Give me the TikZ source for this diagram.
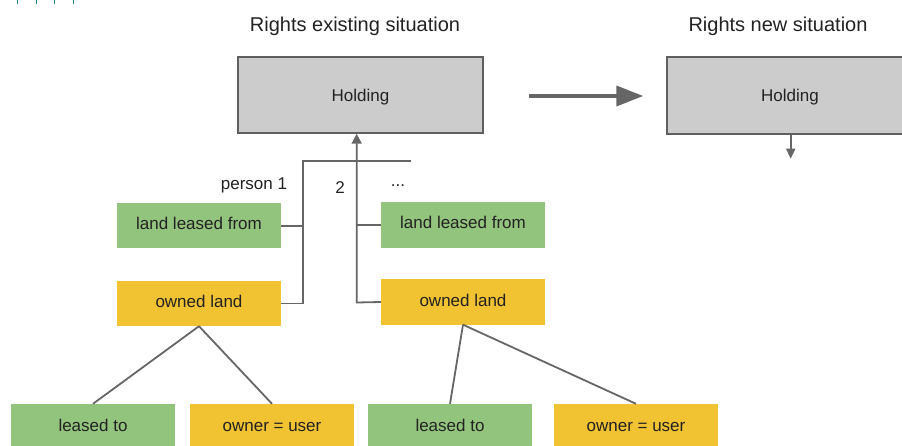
\documentclass[tikz,border=0pt]{standalone}
\usepackage{fontspec}
\setmainfont{Liberation Sans}
\usetikzlibrary{arrows.meta}
\definecolor{boxgray}{HTML}{CCCCCC}
\definecolor{edgegray}{HTML}{5F5F5F}
\definecolor{linegray}{HTML}{666666}
\definecolor{leafgreen}{HTML}{93C47D}
\definecolor{gold}{HTML}{F1C232}
\definecolor{inkdark}{HTML}{222222}
\definecolor{tickblue}{HTML}{1F7A9C}
\tikzset{
  x=1pt, y=-1pt,
  every node/.style={text=inkdark, font=\fontsize{17}{20}\selectfont},
  holdbox/.style={draw=edgegray, line width=1.5pt, fill=boxgray, minimum width=245pt, minimum height=76pt, inner sep=0pt, text height=17pt, text depth=4pt},
  greenbox/.style={fill=leafgreen, minimum width=164pt, minimum height=45pt, inner sep=0pt, text height=12pt, text depth=4pt},
  goldbox/.style={fill=gold, minimum width=164pt, minimum height=45pt, inner sep=0pt, text height=12pt, text depth=4pt},
  leafgreenbox/.style={greenbox, minimum height=43pt, text height=12pt, text depth=1pt},
  leafgoldbox/.style={goldbox, minimum height=43pt, text height=12pt, text depth=1pt},
  wire/.style={draw=linegray, line width=1.8pt},
  upwire/.style={wire, -{Triangle[length=10pt,width=10pt]}},
  bigarrow/.style={draw=linegray, line width=4pt, -{Triangle[length=27pt,width=20pt]}},
  heading/.style={font=\fontsize{20}{24}\selectfont},
  tick/.style={draw=tickblue, line width=1pt}
}
\begin{document}
\begin{tikzpicture}
\useasboundingbox (0,0) rectangle (902,446);
\clip (0,0) rectangle (902,446);

% small marks along the top edge
\foreach \tx in {17.3,36,54.3,73.3}
  \draw[tick] (\tx,0) -- (\tx,4.5);

% headings
\node[heading] (headold) at (355,26) {Rights existing situation};
\node[heading] (headnew) at (778,26) {Rights new situation};

% holdings
\node[holdbox] (hold1) at (360.5,95) {Holding};
\node[holdbox, minimum width=246pt, minimum height=77pt] (hold2) at (790,95.5) {Holding};

% person columns
\node[greenbox] (lf1) at (199,226) {land leased from};
\node[goldbox]  (ol1) at (199,303.5) {owned land};
\node[greenbox, minimum height=46pt] (lf2) at (463,225) {land leased from};
\node[goldbox]  (ol2) at (463,302) {owned land};

% column labels
\node (p1)   at (254,185.5) {person 1};
\node (p2)   at (340,187.5) {2};
\node (pdot) at (398,186) {...};

% leaves
\node[leafgreenbox] (lt1) at (93,425.5) {leased to};
\node[leafgoldbox]  (ou1) at (272,425.5) {owner = user};
\node[leafgreenbox] (lt2) at (450,425.5) {leased to};
\node[leafgoldbox]  (ou2) at (636,425.5) {owner = user};

% bracket of person 1
\coordinate (bend) at (302.7,160.7);
\coordinate (bendend) at (410.7,160.7);
\draw[wire] (ol1.east) -| (bend) -- (bendend);
\draw[wire] (lf1.east) -- (lf1.east -| bend);

% trunk into the holding
\coordinate (trunk) at (356.7,302.5);
\draw[upwire] (ol2.west) -- (trunk) -- (trunk |- hold1.south);
\draw[wire] (lf2.west) -- (lf2.west -| trunk);

% transition arrow
\draw[bigarrow, shorten <=45pt, shorten >=23pt] (hold1.east |- 0,96) -- (hold2.west |- 0,96);
\draw[draw=linegray, line width=1.8pt, -{Triangle[length=10pt,width=9pt]}] (hold2.south -| 790.7,0) -- ++(0,24);

% branches of owned land
\draw[wire] (ol1.south) -- (lt1.north);
\draw[wire] (ol1.south) -- (ou1.north);
\draw[wire] (ol2.south) -- (lt2.north);
\draw[wire] (ol2.south) -- (ou2.north);
\end{tikzpicture}
\end{document}
